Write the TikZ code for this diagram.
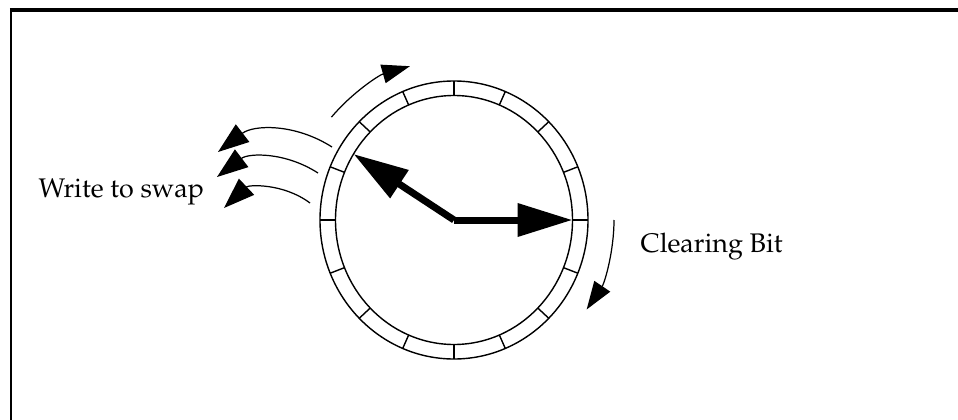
\documentclass[tikz,border=0pt]{standalone}
\usepackage[T1]{fontenc}
\usepackage{mathpazo}
\usetikzlibrary{arrows.meta, calc}

\begin{document}
\begin{tikzpicture}[line width=0.8pt,
    hand/.style={line width=0.14cm, -{Triangle[length=1.1cm,width=0.64cm]}},
    sweep/.style={line width=0.7pt, -{Triangle[length=0.56cm,width=0.38cm]}},
    txt/.style={font=\fontsize{15.3}{18}\selectfont, inner sep=0pt}]
    \useasboundingbox (0,0) rectangle (19.16,-8.4);
    % frame, top and left side only
    \draw[line width=1.4pt] (0.22,-8.4) -- (0.22,-0.2);
    \draw[line width=2pt] (0.2,-0.2) -- (19.16,-0.2);

    \coordinate (hub) at (9.08,-4.4);

    % the ring with its 16 slots
    \draw (hub) ellipse [x radius=2.68cm, y radius=2.78cm];
    \draw (hub) ellipse [x radius=2.37cm, y radius=2.49cm];
    \foreach \a in {0,22.5,...,337.5}
        \draw ($(hub)+(\a:2.37 and 2.49)$) -- ($(hub)+(\a:2.68 and 2.78)$);

    % the two hands
    \coordinate (tipR) at ($(hub)+(0:2.37 and 2.49)$);
    \coordinate (tipL) at ($(hub)+(148:2.37 and 2.49)$);
    \draw[hand] (hub) -- (tipR);
    \draw[hand] (hub) -- (tipL);

    % rotation arrows round the ring
    \coordinate (topA) at ($(hub)+(140:3.2)$);
    \coordinate (rightA) at ($(hub)+(0:3.2)$);
    \draw[sweep] (topA) arc[start angle=140, end angle=106, radius=3.2];
    \draw[sweep] (rightA) arc[start angle=0, end angle=-34, radius=3.2];

    % pages written out
    \coordinate (w1) at (6.64,-2.94);  \coordinate (s1) at (4.36,-3.04);
    \coordinate (w2) at (6.36,-3.46);  \coordinate (s2) at (4.34,-3.54);
    \coordinate (w3) at (6.20,-4.06);  \coordinate (s3) at (4.48,-4.16);
    \draw[sweep, -{Triangle[length=0.62cm,width=0.44cm]}] (w1) to[bend right=35] (s1);
    \draw[sweep, -{Triangle[length=0.62cm,width=0.44cm]}] (w2) to[bend right=35] (s2);
    \draw[sweep, -{Triangle[length=0.62cm,width=0.44cm]}] (w3) to[bend right=40] (s3);

    \node[txt, anchor=base west] (swap) at (0.76,-3.94) {Write to swap};
    \node[txt, anchor=base west] (clear) at (12.8,-5.04) {Clearing Bit};
\end{tikzpicture}
\end{document}
